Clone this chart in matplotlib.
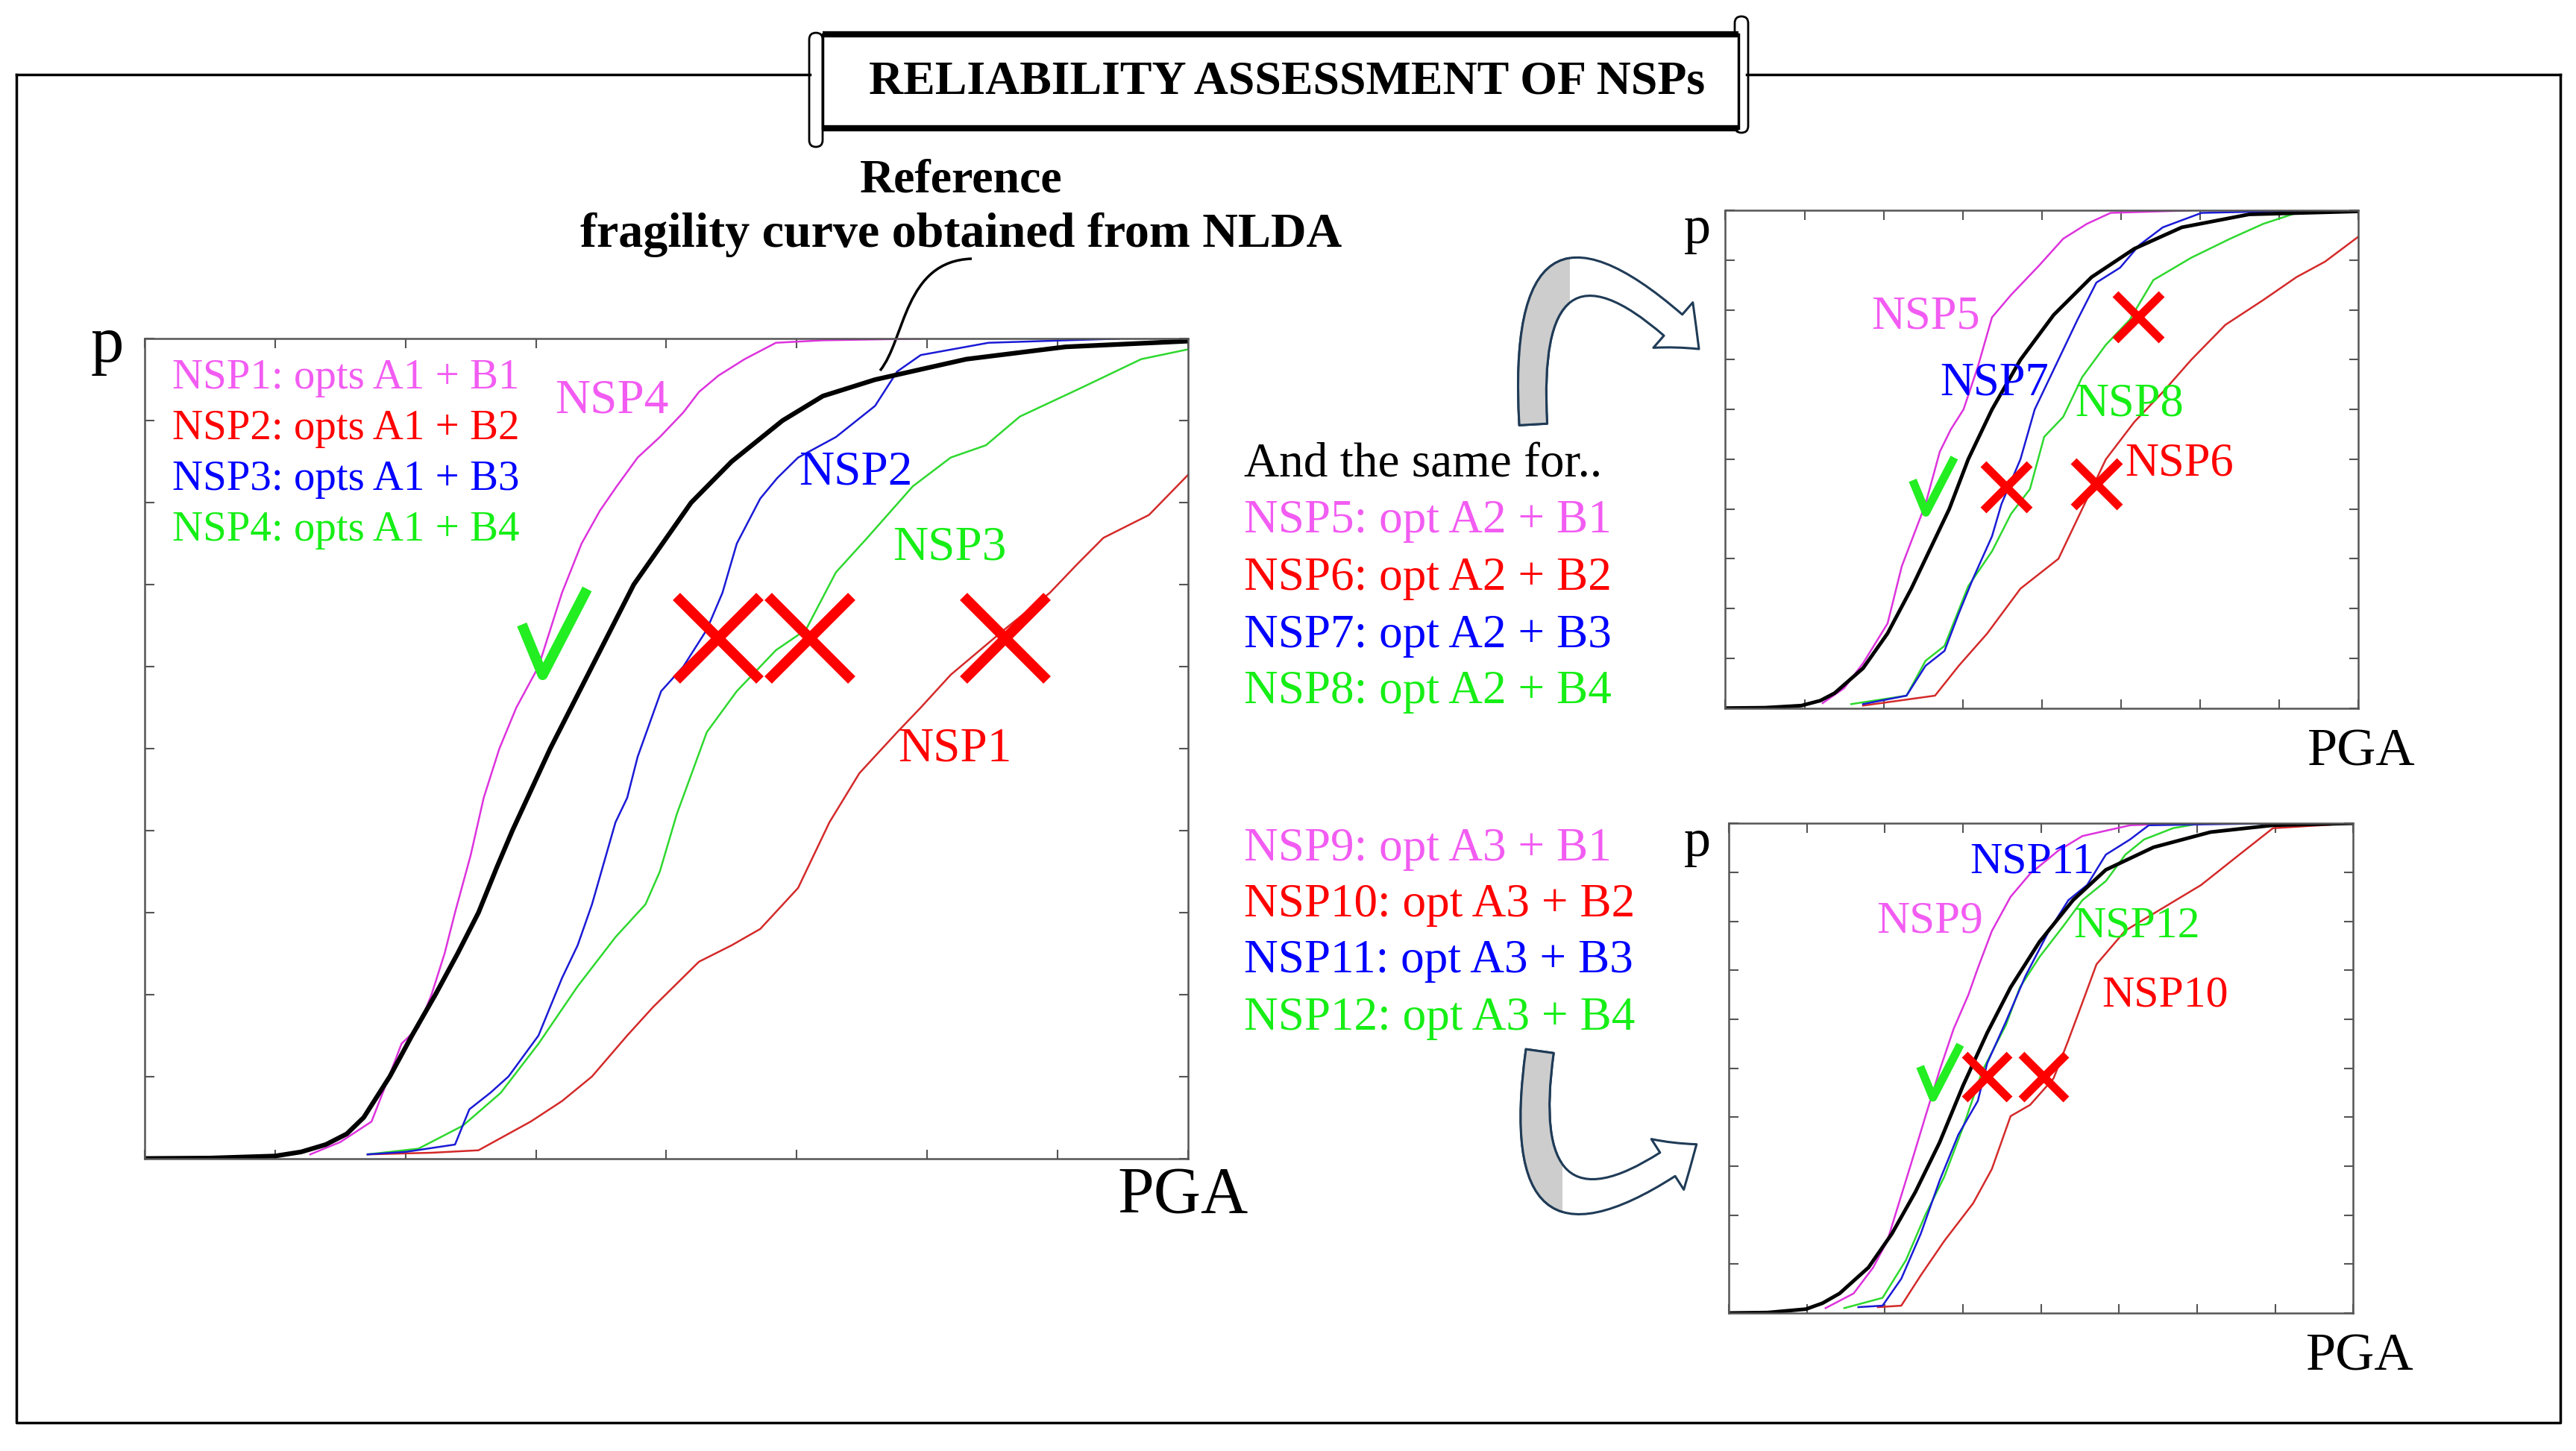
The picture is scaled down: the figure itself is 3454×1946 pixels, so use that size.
import matplotlib.pyplot as plt
from matplotlib.path import Path
from matplotlib.patches import Rectangle, FancyArrowPatch, FancyBboxPatch, PathPatch

plt.rcParams['font.family'] = ['Liberation Serif', 'DejaVu Serif']

# ---- data (x in PGA tick units 0..8, y = probability) ----
ref1_x = [0, 0.5, 1.0, 1.2, 1.39, 1.55, 1.68, 1.88, 2.05, 2.23, 2.4, 2.56, 2.7, 2.82, 3.11, 3.43, 3.75, 4.19, 4.5, 4.89, 5.2, 5.6, 6.3, 7.06, 8.0]
ref1_y = [0, 0.0005, 0.003, 0.008, 0.017, 0.03, 0.05, 0.1, 0.15, 0.2, 0.25, 0.3, 0.355, 0.4, 0.5, 0.6, 0.7, 0.8, 0.85, 0.9, 0.93, 0.95, 0.975, 0.99, 0.997]
nsp4_x = [1.27, 1.5, 1.74, 1.85, 1.97, 2.1, 2.2, 2.3, 2.38, 2.5, 2.6, 2.72, 2.85, 3.02, 3.1, 3.2, 3.35, 3.49, 3.62, 3.78, 3.95, 4.13, 4.25, 4.4, 4.6, 4.84, 5.2, 5.95]
nsp4_y = [0.005, 0.02, 0.045, 0.09, 0.14, 0.16, 0.2, 0.25, 0.3, 0.37, 0.44, 0.5, 0.55, 0.6, 0.64, 0.69, 0.75, 0.79, 0.82, 0.855, 0.88, 0.91, 0.935, 0.955, 0.975, 0.995, 0.998, 1.0]
nsp2_x = [1.71, 2.0, 2.38, 2.49, 2.65, 2.79, 3.02, 3.2, 3.32, 3.43, 3.61, 3.7, 3.78, 3.96, 4.13, 4.31, 4.43, 4.54, 4.72, 4.85, 5.01, 5.3, 5.6, 5.77, 5.95, 6.47, 7.47]
nsp2_y = [0.005, 0.008, 0.017, 0.06, 0.08, 0.1, 0.15, 0.22, 0.26, 0.31, 0.41, 0.44, 0.49, 0.57, 0.6, 0.645, 0.69, 0.75, 0.805, 0.83, 0.855, 0.88, 0.918, 0.96, 0.98, 0.995, 1.0]
nsp3_x = [1.71, 2.1, 2.44, 2.73, 3.02, 3.32, 3.61, 3.84, 3.95, 4.08, 4.31, 4.54, 4.84, 5.07, 5.3, 5.54, 5.89, 6.18, 6.45, 6.71, 7.18, 7.64, 8.0]
nsp3_y = [0.005, 0.012, 0.04, 0.08, 0.14, 0.21, 0.27, 0.31, 0.35, 0.42, 0.52, 0.57, 0.62, 0.645, 0.715, 0.757, 0.82, 0.855, 0.87, 0.905, 0.94, 0.975, 0.987]
nsp1_x = [1.71, 2.2, 2.56, 2.96, 3.2, 3.43, 3.7, 3.9, 4.25, 4.5, 4.72, 5.01, 5.25, 5.48, 5.77, 5.95, 6.18, 6.59, 6.94, 7.15, 7.35, 7.7, 8.0]
nsp1_y = [0.005, 0.007, 0.01, 0.045, 0.07, 0.1, 0.15, 0.185, 0.24, 0.26, 0.28, 0.33, 0.41, 0.47, 0.52, 0.55, 0.59, 0.645, 0.69, 0.725, 0.757, 0.785, 0.834]

ref2_x = [0, 0.5, 0.96, 1.2, 1.38, 1.74, 2.05, 2.35, 2.59, 2.83, 3.07, 3.37, 3.73, 4.15, 4.63, 5.17, 5.77, 6.62, 8.0]
ref2_y = [0, 0.0008, 0.005, 0.015, 0.03, 0.08, 0.15, 0.24, 0.32, 0.4, 0.5, 0.6, 0.7, 0.79, 0.866, 0.923, 0.966, 0.992, 0.998]
nsp5_x = [1.23, 1.5, 1.74, 2.05, 2.23, 2.41, 2.53, 2.71, 2.85, 3.01, 3.19, 3.37, 3.61, 3.97, 4.27, 4.57, 4.87, 5.89]
nsp5_y = [0.01, 0.04, 0.09, 0.17, 0.285, 0.36, 0.41, 0.515, 0.56, 0.6, 0.685, 0.785, 0.83, 0.89, 0.943, 0.973, 0.995, 1.0]
nsp7_x = [1.74, 2.29, 2.53, 2.77, 2.95, 3.13, 3.37, 3.49, 3.73, 3.91, 4.15, 4.45, 4.69, 4.99, 5.23, 5.53, 6.02, 7.46]
nsp7_y = [0.008, 0.025, 0.085, 0.115, 0.19, 0.26, 0.345, 0.41, 0.5, 0.6, 0.68, 0.78, 0.855, 0.885, 0.93, 0.966, 0.995, 1.0]
nsp8_x = [1.59, 2.29, 2.53, 2.77, 3.07, 3.37, 3.61, 3.85, 4.03, 4.27, 4.51, 4.81, 5.11, 5.41, 5.89, 6.38, 6.8, 7.22, 8.0]
nsp8_y = [0.008, 0.025, 0.095, 0.125, 0.245, 0.315, 0.39, 0.44, 0.545, 0.585, 0.665, 0.73, 0.78, 0.86, 0.905, 0.943, 0.973, 0.995, 1.0]
nsp6_x = [1.74, 2.65, 2.95, 3.31, 3.73, 4.21, 4.51, 4.81, 5.17, 5.53, 5.89, 6.32, 6.8, 7.22, 7.58, 8.0]
nsp6_y = [0.005, 0.025, 0.085, 0.15, 0.24, 0.3, 0.4, 0.5, 0.575, 0.635, 0.7, 0.77, 0.82, 0.866, 0.897, 0.947]

ref3_x = [0, 0.5, 0.99, 1.2, 1.42, 1.79, 2.09, 2.39, 2.7, 3.0, 3.31, 3.61, 3.98, 4.41, 4.83, 5.44, 6.17, 6.97, 8.0]
ref3_y = [0, 0.001, 0.008, 0.02, 0.04, 0.093, 0.162, 0.247, 0.348, 0.464, 0.572, 0.665, 0.758, 0.843, 0.905, 0.951, 0.982, 0.996, 1.0]
nsp9_x = [1.24, 1.6, 1.85, 2.03, 2.15, 2.33, 2.52, 2.7, 2.88, 3.07, 3.19, 3.37, 3.61, 3.86, 4.22, 4.53, 5.14, 5.81]
nsp9_y = [0.01, 0.04, 0.093, 0.147, 0.209, 0.302, 0.402, 0.495, 0.58, 0.65, 0.704, 0.78, 0.85, 0.897, 0.944, 0.974, 0.996, 1.0]
nsp11_x = [1.66, 1.97, 2.21, 2.46, 2.7, 2.94, 3.19, 3.31, 3.55, 3.8, 4.1, 4.35, 4.59, 4.83, 5.14, 5.38, 6.97]
nsp11_y = [0.012, 0.015, 0.07, 0.162, 0.27, 0.364, 0.433, 0.51, 0.595, 0.688, 0.78, 0.843, 0.874, 0.936, 0.967, 0.996, 1.0]
nsp12_x = [1.48, 1.97, 2.27, 2.52, 2.76, 3.0, 3.25, 3.55, 3.73, 3.98, 4.28, 4.53, 4.83, 5.08, 5.32, 5.69, 6.05, 8.0]
nsp12_y = [0.01, 0.031, 0.108, 0.201, 0.278, 0.379, 0.495, 0.588, 0.665, 0.727, 0.789, 0.843, 0.882, 0.936, 0.967, 0.99, 1.0, 1.0]
nsp10_x = [1.91, 2.21, 2.46, 2.76, 3.13, 3.37, 3.61, 3.86, 4.16, 4.35, 4.53, 4.71, 5.08, 5.56, 6.05, 6.54, 6.97, 8.0]
nsp10_y = [0.012, 0.015, 0.077, 0.147, 0.224, 0.294, 0.402, 0.425, 0.479, 0.557, 0.634, 0.712, 0.781, 0.827, 0.874, 0.936, 0.99, 1.0]

# verdict marks
main_cross_x = [4.4, 5.1, 6.6]
main_cross_y = [0.635, 0.635, 0.635]
main_check_x, main_check_y = [3.14], [0.643]
tr_cross_x = [3.55, 4.69, 5.22]
tr_cross_y = [0.445, 0.45, 0.786]
tr_check_x, tr_check_y = [2.63], [0.449]
br_cross_x = [3.31, 4.03]
br_cross_y = [0.483, 0.483]
br_check_x, br_check_y = [2.7], [0.495]

legend_main = ["NSP1: opts A1 + B1", "NSP2: opts A1 + B2", "NSP3: opts A1 + B3", "NSP4: opts A1 + B4"]
legend_a2 = ["NSP5: opt A2 + B1", "NSP6: opt A2 + B2", "NSP7: opt A2 + B3", "NSP8: opt A2 + B4"]
legend_a3 = ["NSP9: opt A3 + B1", "NSP10: opt A3 + B2", "NSP11: opt A3 + B3", "NSP12: opt A3 + B4"]

MAG_T, RED_T, BLU_T, GRN_T = "#f25cf2", "#ff0000", "#0000ff", "#16ee16"
MAG_L, RED_L, BLU_L, GRN_L = "#dd33dd", "#d42a2a", "#1a1ad6", "#2ed82e"
text_cols = [MAG_T, RED_T, BLU_T, GRN_T]

W, H = 3455, 1946
fig = plt.figure(figsize=(W / 100, H / 100), dpi=100)

# decoration layer in pixel coordinates
deco = fig.add_axes([0, 0, 1, 1], zorder=0)
deco.set_xlim(0, W)
deco.set_ylim(H, 0)
deco.axis('off')
deco.plot([22, 1086], [100, 100], color='black', lw=2.5)
deco.plot([2342, 3433], [100, 100], color='black', lw=2.5)
deco.plot([22, 22, 3433, 3433], [100, 1908, 1908, 100], color='black', lw=2.5)

# title scroll
deco.add_patch(FancyBboxPatch((1085, 44), 18, 153, boxstyle='round,pad=0,rounding_size=9',
                              fc='white', ec='black', lw=2))
deco.add_patch(FancyBboxPatch((2326, 22), 18, 156, boxstyle='round,pad=0,rounding_size=9',
                              fc='white', ec='black', lw=2))
deco.add_patch(Rectangle((1103, 46), 1228, 126, fc='white', ec='black', lw=2.5))
deco.plot([1103, 2331], [46, 46], color='black', lw=6, solid_capstyle='butt')
deco.plot([1103, 2331], [172, 172], color='black', lw=6, solid_capstyle='butt')

# curved arrows: white body with grey tail part
arrow_style = 'simple,head_length=34,head_width=58,tail_width=27'
for a, b, rad, clip in [((2056, 572), (2280, 470), -1.3, (1900, 300, 205, 400)),
                        ((2065, 1407), (2277, 1533), 1.2, (1900, 1350, 195, 300))]:
    deco.add_patch(FancyArrowPatch(a, b, connectionstyle=f'arc3,rad={rad}', arrowstyle=arrow_style,
                                   mutation_scale=1, fc='white', ec='#1f3b57', lw=2.2))
    grey = FancyArrowPatch(a, b, connectionstyle=f'arc3,rad={rad}', arrowstyle=arrow_style,
                           mutation_scale=1, fc='#cdcdcd', ec='#1f3b57', lw=2.2)
    deco.add_patch(grey)
    grey.set_clip_path(Rectangle(clip[:2], clip[2], clip[3], transform=deco.transData))

fig.text(0.4994, 0.9434, "RELIABILITY ASSESSMENT OF NSPs", ha='center', va='center',
         fontsize=46, fontweight='bold')
fig.text(0.3731, 0.8754, "Reference", ha='center', va='center', fontsize=46, fontweight='bold')
fig.text(0.3731, 0.838, "fragility curve obtained from NLDA", ha='center', va='center',
         fontsize=47.5, fontweight='bold')

mid_rows_a2 = [0.641, 0.6014, 0.5617, 0.5232]
mid_rows_a3 = [0.4145, 0.376, 0.3375, 0.2978]
fig.text(0.4828, 0.6795, "And the same for..", ha='left', va='center', fontsize=47)
for txt, col, yy in zip(legend_a2, text_cols, mid_rows_a2):
    fig.text(0.4828, yy, txt, ha='left', va='center', fontsize=45.5, color=col)
for txt, col, yy in zip(legend_a3, text_cols, mid_rows_a3):
    fig.text(0.4828, yy, txt, ha='left', va='center', fontsize=45.5, color=col)

check_path = Path([(-55, 12.5), (-20, -72.5), (55, 72.5)])


def style(ax):
    ax.set_xlim(0, 8)
    ax.set_ylim(0, 1)
    ax.set_xticks(range(9))
    ax.set_yticks([i / 10 for i in range(11)])
    ax.tick_params(direction='in', length=9, width=1.5, color='#555555', top=True, right=True,
                   labelbottom=False, labelleft=False)
    for s in ax.spines.values():
        s.set_color('#555555')
        s.set_linewidth(1.8)


def panel(rect, ref, curves, ref_lw, crosses, check, cross_ms, cross_mew, check_ms, check_mew):
    ax = fig.add_axes(rect, zorder=2)
    style(ax)
    for (x, y), col in curves:
        ax.plot(x, y, color=col, lw=1.8)
    ax.plot(ref[0], ref[1], color='black', lw=ref_lw, solid_capstyle='round')
    ax.plot(crosses[0], crosses[1], linestyle='none', marker='x', ms=cross_ms, mew=cross_mew,
            color='#ff0000', zorder=5, clip_on=False)
    ax.plot(check[0], check[1], linestyle='none', marker=check_path, ms=check_ms, mew=check_mew,
            mfc='none', mec='#22ee22', zorder=5, clip_on=False)
    return ax


main = panel([0.0561, 0.2016, 0.405, 0.565], (ref1_x, ref1_y),
             [((nsp4_x, nsp4_y), MAG_L), ((nsp1_x, nsp1_y), RED_L),
              ((nsp3_x, nsp3_y), GRN_L), ((nsp2_x, nsp2_y), BLU_L)],
             4.5, (main_cross_x, main_cross_y), (main_check_x, main_check_y), 80, 10, 83, 10)
for txt, col, yy in zip(legend_main, text_cols, [0.952, 0.890, 0.828, 0.766]):
    main.text(0.0268, yy, txt, transform=main.transAxes, ha='left', va='center', fontsize=41, color=col)
main.text(3.58, 0.924, "NSP4", color=MAG_T, fontsize=47, ha='center', va='center')
main.text(5.45, 0.837, "NSP2", color=BLU_T, fontsize=47, ha='center', va='center')
main.text(6.17, 0.745, "NSP3", color=GRN_T, fontsize=47, ha='center', va='center')
main.text(6.21, 0.499, "NSP1", color=RED_T, fontsize=47, ha='center', va='center')

# S-shaped leader from the caption to the reference curve (pixel coordinates)
leader = Path([(1303, 347), (1212, 350), (1214, 455), (1180, 497)],
              [Path.MOVETO, Path.CURVE4, Path.CURVE4, Path.CURVE4])
main.add_patch(PathPatch(leader, transform=deco.transData, fc='none', ec='black', lw=2.5, clip_on=False))

tr = panel([0.6696, 0.512, 0.2456, 0.343], (ref2_x, ref2_y),
           [((nsp5_x, nsp5_y), MAG_L), ((nsp6_x, nsp6_y), RED_L),
            ((nsp8_x, nsp8_y), GRN_L), ((nsp7_x, nsp7_y), BLU_L)],
           3.5, (tr_cross_x, tr_cross_y), (tr_check_x, tr_check_y), 45, 8, 53, 8)
tr.text(2.53, 0.786, "NSP5", color=MAG_T, fontsize=45, ha='center', va='center')
tr.text(3.4, 0.652, "NSP7", color=BLU_T, fontsize=45, ha='center', va='center')
tr.text(5.11, 0.61, "NSP8", color=GRN_T, fontsize=45, ha='center', va='center')
tr.text(5.74, 0.49, "NSP6", color=RED_T, fontsize=45, ha='center', va='center')

br = panel([0.6709, 0.0951, 0.2424, 0.3375], (ref3_x, ref3_y),
           [((nsp9_x, nsp9_y), MAG_L), ((nsp10_x, nsp10_y), RED_L),
            ((nsp12_x, nsp12_y), GRN_L), ((nsp11_x, nsp11_y), BLU_L)],
           3.5, (br_cross_x, br_cross_y), (br_check_x, br_check_y), 43, 8, 51, 8)
br.text(3.89, 0.92, "NSP11", color=BLU_T, fontsize=43, ha='center', va='center')
br.text(2.58, 0.80, "NSP9", color=MAG_T, fontsize=44, ha='center', va='center')
br.text(5.23, 0.79, "NSP12", color=GRN_T, fontsize=43, ha='center', va='center')
br.text(5.59, 0.648, "NSP10", color=RED_T, fontsize=43, ha='center', va='center')

# axis letters
fig.text(0.0415, 0.762, "p", fontsize=64, ha='center', va='center')
fig.text(0.4592, 0.1755, "PGA", fontsize=63, ha='center', va='center')
fig.text(0.6588, 0.8415, "p", fontsize=52, ha='center', va='center')
fig.text(0.9165, 0.4813, "PGA", fontsize=52, ha='center', va='center')
fig.text(0.6588, 0.419, "p", fontsize=52, ha='center', va='center')
fig.text(0.9158, 0.0645, "PGA", fontsize=52, ha='center', va='center')

fig.savefig("out.png", dpi=100, facecolor='white')
